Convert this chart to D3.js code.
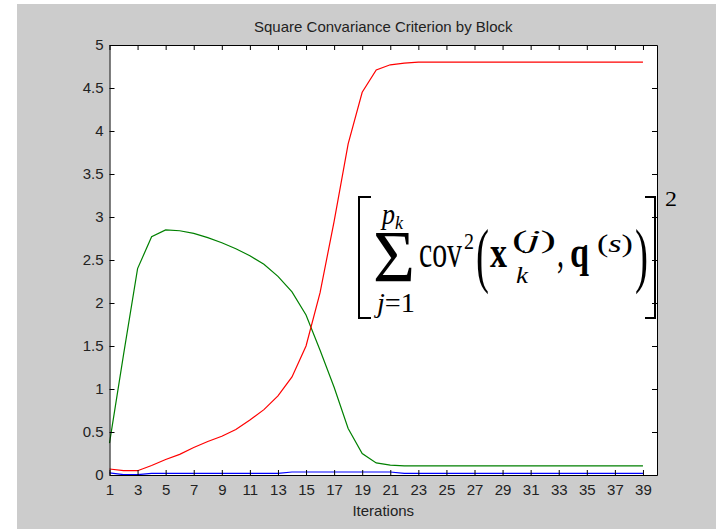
<!DOCTYPE html>
<html>
<head>
<meta charset="utf-8">
<script src="https://cdn.jsdelivr.net/npm/d3@7"></script>
<style>
  body { margin: 0; background: #fff; }
  svg text { font-family: "Liberation Sans", Arial, Helvetica, sans-serif; }
</style>
</head>
<body>
<div id="chart"></div>
<script>
// chart data
var iterations = [1,2,3,4,5,6,7,8,9,10,11,12,13,14,15,16,17,18,19,20,
                  21,22,23,24,25,26,27,28,29,30,31,32,33,34,35,36,37,38,39];
var blueValues = [0.025,0.004,0.004,0.02,0.02,0.02,0.02,0.02,0.02,0.02,
                  0.02,0.02,0.02,0.035,0.035,0.035,0.035,0.035,0.035,0.035,
                  0.035,0.02,0.02,0.02,0.02,0.02,0.02,0.02,0.02,0.02,
                  0.02,0.02,0.02,0.02,0.02,0.02,0.02,0.02,0.02];
var greenValues = [0.37,1.40,2.40,2.77,2.85,2.84,2.81,2.76,2.70,2.63,
                   2.55,2.45,2.31,2.13,1.86,1.45,1.02,0.54,0.25,0.14,
                   0.115,0.105,0.105,0.105,0.105,0.105,0.105,0.105,0.105,0.105,
                   0.105,0.105,0.105,0.105,0.105,0.105,0.105,0.105,0.105];
var redValues = [0.07,0.05,0.05,0.11,0.18,0.24,0.32,0.39,0.45,0.53,
                 0.64,0.76,0.92,1.14,1.50,2.12,2.95,3.85,4.45,4.71,
                 4.77,4.79,4.80,4.80,4.80,4.80,4.80,4.80,4.80,4.80,
                 4.80,4.80,4.80,4.80,4.80,4.80,4.80,4.80,4.80];
var xTicks = [1,3,5,7,9,11,13,15,17,19,21,23,25,27,29,31,33,35,37,39];
var yTicks = [0,0.5,1,1.5,2,2.5,3,3.5,4,4.5,5];

var svgWidth = 716;
var svgHeight = 529;

var chartMargin = {
    top: 45,
    right: 59,
    bottom: 54,
    left: 109.5
}

var chartWidth = svgWidth - chartMargin.left - chartMargin.right;
var chartHeight = svgHeight - chartMargin.top - chartMargin.bottom;

var svg = d3.select("#chart")
            .append("svg")
            .attr("width", svgWidth)
            .attr("height", svgHeight);

// grey figure background
svg.append("rect")
    .attr("x", 17).attr("y", 4)
    .attr("width", svgWidth - 17).attr("height", svgHeight - 4)
    .attr("fill", "#cccccc");

var chartGroup = svg.append("g")
                    .attr("transform", `translate(${chartMargin.left}, ${chartMargin.top})`);

chartGroup.append("rect")
    .attr("width", chartWidth).attr("height", chartHeight)
    .attr("fill", "#ffffff");

var xScale = d3.scaleLinear()
                .domain([1, 40])
                .range([0, chartWidth]);
var yScale = d3.scaleLinear()
                .domain([0, 5])
                .range([chartHeight, 0]);

// lines
var series = [
    {values: blueValues, color: "#0000ff"},
    {values: greenValues, color: "#008000"},
    {values: redValues, color: "#ff0000"}
];
var line = d3.line()
             .x(function(d, i){ return xScale(iterations[i]); })
             .y(function(d){ return yScale(d); });

series.forEach(function(s){
    chartGroup.append("path")
        .attr("d", line(s.values))
        .attr("fill", "none")
        .attr("stroke", s.color)
        .attr("stroke-width", 1.2);
});

// axes, ticks pointing inward on all four sides
function styleAxis(g){
    g.selectAll("path").attr("stroke", "#000");
    g.selectAll("line").attr("stroke", "#000");
    g.selectAll("text").attr("fill", "#222").style("font-size", "15px")
     .style("font-family", "'Liberation Sans', Arial, sans-serif");
}

var xAxis = d3.axisBottom(xScale).tickValues(xTicks).tickSize(-5).tickSizeOuter(0).tickPadding(9)
              .tickFormat(function(d){ return String(d); });
var yAxis = d3.axisLeft(yScale).tickValues(yTicks).tickSize(-5).tickSizeOuter(0).tickPadding(6)
              .tickFormat(function(d){ return String(d); });
var xAxisTop = d3.axisTop(xScale).tickValues(xTicks).tickSize(-5).tickSizeOuter(0).tickFormat("");
var yAxisRight = d3.axisRight(yScale).tickValues(yTicks).tickSize(-5).tickSizeOuter(0).tickFormat("");

chartGroup.append("g").attr("transform", `translate(0, ${chartHeight})`).call(xAxis).call(styleAxis);
chartGroup.append("g").call(yAxis).call(styleAxis);
chartGroup.append("g").call(xAxisTop).call(styleAxis);
chartGroup.append("g").attr("transform", `translate(${chartWidth}, 0)`).call(yAxisRight).call(styleAxis);

// title and axis label
svg.append("text")
    .attr("x", chartMargin.left + chartWidth / 2)
    .attr("y", 32)
    .attr("text-anchor", "middle")
    .attr("fill", "#222")
    .style("font-size", "15px")
    .text("Square Convariance Criterion by Block");

svg.append("text")
    .attr("x", chartMargin.left + chartWidth / 2)
    .attr("y", 516)
    .attr("text-anchor", "middle")
    .attr("fill", "#222")
    .style("font-size", "15px")
    .text("Iterations");

// formula annotation
var serif = "'Liberation Serif', 'Times New Roman', serif";
var formula = svg.append("g").attr("fill", "#000");

function piece(txt, x, y, size, len, opts){
    opts = opts || {};
    var t = formula.append("text")
        .attr("x", x).attr("y", y)
        .attr("textLength", len)
        .attr("lengthAdjust", "spacingAndGlyphs")
        .style("font-family", serif)
        .style("font-size", size + "px");
    if (opts.italic) t.style("font-style", "italic");
    if (opts.bold) t.style("font-weight", "bold");
    if (opts.parts) {
        opts.parts.forEach(function(p){
            t.append("tspan").style("font-style", p[1] ? "italic" : "normal").text(p[0]);
        });
    } else {
        t.text(txt);
    }
    return t;
}

piece("\u03A3", 373, 282, 74, 42);
piece("p", 382, 224, 30, 13, {italic: true});
piece("k", 395, 229, 18, 8, {italic: true});
piece("", 377, 312, 27, 38, {parts: [["j", true], ["=1", false]]});
piece("cov", 419, 267, 46, 43);
piece("2", 464, 249, 24, 10);
piece("(", 476, 279, 72, 13);
piece("x", 490, 267, 44, 17, {bold: true});
piece("", 512, 248, 25, 44, {parts: [["(", false], ["j", true], [")", false]]});
piece("k", 516, 283, 24, 12, {italic: true});
piece(",", 557, 267, 44, 7);
piece("q", 570, 267, 44, 19, {bold: true});
piece("", 597, 252, 25, 36, {parts: [["(", false], ["s", true], [")", false]]});
piece(")", 635, 279, 72, 13);
piece("2", 665, 206, 22, 12);

formula.append("path")
    .attr("d", "M371,197H359V318H371")
    .attr("fill", "none").attr("stroke", "#000").attr("stroke-width", 2);
formula.append("path")
    .attr("d", "M645,197H655V318H645")
    .attr("fill", "none").attr("stroke", "#000").attr("stroke-width", 2);
</script>
</body>
</html>
